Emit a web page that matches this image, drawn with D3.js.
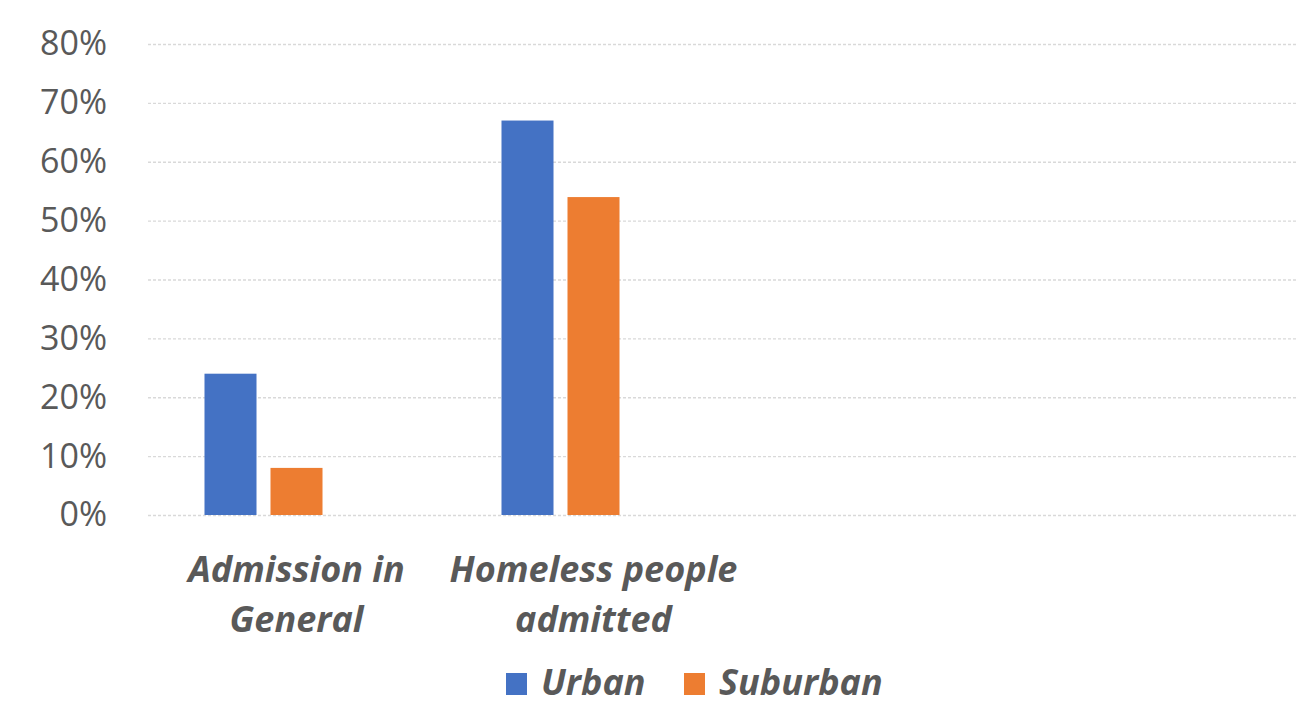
<!DOCTYPE html>
<html>

<head>
    <meta charset="utf-8">
    <style>
        body {
            margin: 0;
            background: #fff;
        }

        svg {
            display: block;
        }

        .y .tick line {
            stroke: #d9d9d9;
            stroke-width: 1.3;
            stroke-dasharray: 3 2;
        }

        .y .domain,
        .x .domain,
        .x .tick line {
            display: none;
        }

        .y .tick text {
            font-family: "Open Sans", "Noto Sans", sans-serif;
            font-size: 34px;
            fill: #595959;
        }

        .cat-label,
        .legend-label {
            font-family: "Open Sans", "Noto Sans", sans-serif;
            font-size: 36px;
            font-weight: 700;
            font-style: italic;
            fill: #595959;
        }
    </style>
    <title>Urban vs Suburban admissions</title>
</head>

<body>
    <svg width="1299" height="703"></svg>

    <script src="https://cdn.jsdelivr.net/npm/d3@7"></script>
    <script>
        // data
        let categories = ["Admission in General", "Homeless people admitted"];
        let catLines = [["Admission in", "General"], ["Homeless people", "admitted"]];
        let seriesNames = ["Urban", "Suburban"];
        let urban = [0.24, 0.67];
        let suburban = [0.08, 0.54];
        let yTicks = [0, 0.1, 0.2, 0.3, 0.4, 0.5, 0.6, 0.7, 0.8];

        let colors = ["#4472C4", "#ED7D31"];

        let margin = { top: 44, left: 148, right: 2 };
        let width = 1299;
        let plotBottom = 515;
        let catStep = 297;

        let svg = d3.select("svg");

        let y = d3.scaleLinear()
            .domain([0, 0.8])
            .range([plotBottom, margin.top]);

        let x0 = d3.scaleBand()
            .domain(categories)
            .range([margin.left, margin.left + catStep * categories.length])
            .paddingInner(0)
            .paddingOuter(0);

        // Excel kept a third (empty) series slot, so bars sit left of centre
        let slots = [...seriesNames, "_empty"];
        let x1 = d3.scaleBand()
            .domain(slots)
            .range([0, x0.bandwidth()])
            .paddingInner(0.212)
            .paddingOuter(0.856);

        let color = d3.scaleOrdinal().domain(seriesNames).range(colors);

        // gridlines + y labels
        svg.append("g")
            .attr("class", "y axis")
            .attr("transform", `translate(${margin.left},0)`)
            .call(d3.axisLeft(y)
                .tickValues(yTicks)
                .tickSize(-(width - margin.right - margin.left))
                .tickPadding(41)
                .tickFormat(d3.format(".0%")))
            .call(g => g.select(".domain").remove());

        let rows = categories.map((c, i) => ({ cat: c, Urban: urban[i], Suburban: suburban[i] }));

        svg.append("g")
            .selectAll("g")
            .data(rows)
            .join("g")
            .attr("transform", d => `translate(${x0(d.cat)},0)`)
            .selectAll("rect")
            .data(d => seriesNames.map(k => ({ key: k, value: d[k] })))
            .join("rect")
            .attr("x", d => x1(d.key))
            .attr("width", x1.bandwidth())
            .attr("y", d => y(d.value))
            .attr("height", d => y(0) - y(d.value))
            .attr("fill", d => color(d.key));

        // category labels (two lines each)
        let catG = svg.append("g").attr("class", "x axis");
        categories.forEach((c, i) => {
            let t = catG.append("text")
                .attr("class", "cat-label")
                .attr("text-anchor", "middle")
                .attr("x", x0(c) + x0.bandwidth() / 2)
                .attr("y", 582);
            catLines[i].forEach((line, j) => {
                t.append("tspan")
                    .attr("x", x0(c) + x0.bandwidth() / 2)
                    .attr("dy", j == 0 ? 0 : 50)
                    .text(line);
            });
        });

        // legend
        let legend = svg.append("g").attr("transform", "translate(506,673)");
        let lx = [0, 178];
        seriesNames.forEach((s, i) => {
            legend.append("rect")
                .attr("x", lx[i])
                .attr("y", 0)
                .attr("width", 21)
                .attr("height", 22)
                .attr("fill", color(s));
            legend.append("text")
                .attr("class", "legend-label")
                .attr("x", lx[i] + 35)
                .attr("y", 22)
                .text(s);
        });
    </script>
</body>

</html>
